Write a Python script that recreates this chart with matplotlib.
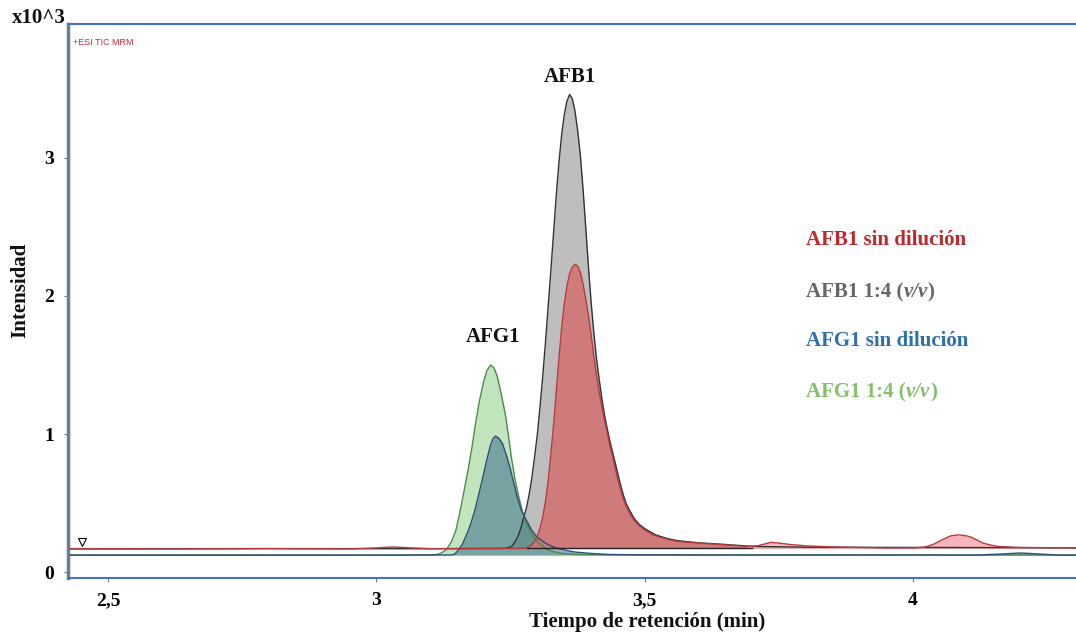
import matplotlib
matplotlib.use("Agg")
import matplotlib.pyplot as plt
import numpy as np

SERIF = ["Liberation Serif", "DejaVu Serif"]

afb1_x = [2.43, 2.60, 2.80, 2.95, 3.00, 3.03, 3.06, 3.10, 3.20, 3.26, 3.28, 3.285, 3.29, 3.295,
          3.30, 3.305, 3.31, 3.315, 3.32, 3.325, 3.33, 3.335, 3.34, 3.345, 3.35, 3.355, 3.36,
          3.365, 3.371, 3.376, 3.38, 3.385, 3.39, 3.395, 3.40, 3.405, 3.41, 3.415, 3.42, 3.425,
          3.43, 3.435, 3.44, 3.445, 3.45, 3.455, 3.46, 3.465, 3.47, 3.48, 3.49, 3.50, 3.515,
          3.53, 3.56, 3.60, 3.65, 3.69, 3.71, 3.72, 3.735, 3.75, 3.77, 3.80, 3.85, 3.90, 3.95,
          4.00, 4.02, 4.03, 4.04, 4.05, 4.06, 4.07, 4.085, 4.10, 4.11, 4.12, 4.13, 4.145, 4.16,
          4.20, 4.31]
afb1_y = [0.170, 0.168, 0.170, 0.168, 0.175, 0.182, 0.176, 0.170, 0.170, 0.171, 0.174, 0.185, 0.20, 0.225,
          0.26, 0.32, 0.40, 0.51, 0.66, 0.85, 1.06, 1.30, 1.54, 1.76, 1.94, 2.07, 2.16,
          2.21, 2.23, 2.21, 2.17, 2.09, 1.98, 1.86, 1.72, 1.57, 1.43, 1.31, 1.20, 1.10,
          1.01, 0.92, 0.84, 0.75, 0.67, 0.60, 0.53, 0.48, 0.44, 0.375, 0.335, 0.305, 0.27,
          0.25, 0.222, 0.21, 0.197, 0.186, 0.190, 0.200, 0.215, 0.210, 0.200, 0.190, 0.182, 0.178, 0.175,
          0.175, 0.180, 0.190, 0.205, 0.225, 0.245, 0.262, 0.270, 0.262, 0.250, 0.230, 0.210, 0.195, 0.185,
          0.178, 0.175]

afb1_dil_x = [2.43, 2.80, 3.10, 3.24, 3.252, 3.26, 3.265, 3.27, 3.275, 3.28, 3.285, 3.29, 3.295,
              3.30, 3.305, 3.31, 3.315, 3.32, 3.325, 3.33, 3.335, 3.34, 3.345, 3.35, 3.355, 3.36,
              3.365, 3.37, 3.375, 3.38, 3.385, 3.39, 3.395, 3.40, 3.405, 3.41, 3.415, 3.42, 3.425,
              3.43, 3.435, 3.44, 3.445, 3.45, 3.455, 3.46, 3.465, 3.47, 3.48, 3.49, 3.50, 3.52,
              3.54, 3.56, 3.60, 3.65, 3.70, 3.80, 4.31]
afb1_dil_y = [0.168, 0.170, 0.169, 0.172, 0.185, 0.23, 0.27, 0.33, 0.40, 0.47, 0.57, 0.69, 0.84,
              1.00, 1.20, 1.42, 1.66, 1.92, 2.18, 2.45, 2.72, 2.96, 3.16, 3.31, 3.41, 3.46,
              3.43, 3.34, 3.20, 3.02, 2.78, 2.50, 2.22, 1.96, 1.74, 1.55, 1.40, 1.26, 1.14,
              1.04, 0.95, 0.87, 0.79, 0.71, 0.63, 0.56, 0.50, 0.46, 0.39, 0.345, 0.315, 0.27,
              0.245, 0.228, 0.212, 0.200, 0.186, 0.180, 0.176]

afg1_x = [2.43, 2.70, 3.00, 3.14, 3.146, 3.153, 3.16, 3.168, 3.175, 3.183, 3.19, 3.198, 3.205,
          3.212, 3.217, 3.222, 3.228, 3.235, 3.242, 3.25, 3.256, 3.262, 3.27, 3.28, 3.29, 3.30,
          3.315, 3.33, 3.35, 3.37, 3.40, 3.43, 3.47, 3.60, 4.12, 4.16, 4.20, 4.24, 4.27, 4.31]
afg1_y = [0.123, 0.122, 0.123, 0.124, 0.130, 0.16, 0.20, 0.27, 0.34, 0.44, 0.55, 0.68, 0.80,
          0.91, 0.965, 0.985, 0.97, 0.93, 0.85, 0.74, 0.645, 0.55, 0.45, 0.37, 0.30, 0.25,
          0.21, 0.18, 0.16, 0.145, 0.135, 0.128, 0.125, 0.123, 0.123, 0.130, 0.138, 0.130, 0.123, 0.123]

afg1_dil_x = [2.43, 2.70, 3.00, 3.10, 3.11, 3.115, 3.12, 3.13, 3.14, 3.148, 3.155, 3.162, 3.17,
              3.178, 3.185, 3.192, 3.20, 3.206, 3.213, 3.219, 3.225, 3.232, 3.24, 3.246, 3.252,
              3.258, 3.265, 3.272, 3.28, 3.29, 3.30, 3.31, 3.32, 3.333, 3.347, 3.37, 3.40, 4.31]
afg1_dil_y = [0.123, 0.124, 0.122, 0.123, 0.126, 0.130, 0.136, 0.16, 0.22, 0.30, 0.42, 0.56, 0.72,
              0.90, 1.08, 1.24, 1.38, 1.46, 1.50, 1.48, 1.42, 1.30, 1.15, 0.99, 0.82,
              0.68, 0.55, 0.44, 0.35, 0.27, 0.22, 0.185, 0.16, 0.145, 0.135, 0.128, 0.125, 0.123]

# linea de integracion bajo AFB1
integ_x = [3.28, 3.70]
integ_y = [0.172, 0.172]

legend_labels = [("AFB1 sin dilución", None), ("AFB1 1:4 (", "v/v"),
                 ("AFG1 sin dilución", None), ("AFG1 1:4 (", "v/v")]
legend_colors = ["#c0282d", "#666666", "#2e6fae", "#84bf6a"]

fig = plt.figure(figsize=(10.76, 6.35), dpi=100)
ax = fig.add_axes([68/1076, 57/635, 1 - 68/1076, 554/635])

ax.fill_between(afb1_dil_x, afb1_dil_y, 0.17, color="#bebebe", zorder=1, lw=0)
ax.plot(afb1_dil_x, afb1_dil_y, color="#333333", lw=1.0, zorder=5)

ax.fill_between(afg1_dil_x, afg1_dil_y, 0.123, color=(0.47, 0.78, 0.43), alpha=0.45, zorder=2, lw=0)
ax.plot(afg1_dil_x, afg1_dil_y, color="#4a8a4a", lw=1.0, zorder=5)

ax.fill_between(afg1_x, afg1_y, 0.123, color=(0.24, 0.43, 0.55), alpha=0.55, zorder=3, lw=0)
ax.plot(afg1_x, afg1_y, color="#2a4f7a", lw=1.0, zorder=5)

rx = np.array(afb1_x)
ry = np.array(afb1_y)
ax.fill_between(rx, ry, 0.172, where=rx <= 3.70, color=(0.82, 0.45, 0.455), alpha=0.9,
                zorder=4, lw=0, interpolate=True)
ax.fill_between(rx, ry, 0.172, where=rx >= 3.70, color="#f5aab0", alpha=0.85,
                zorder=4, lw=0, interpolate=True)
ax.plot(afb1_x, afb1_y, color="#b83a3f", lw=1.0, zorder=6)
ax.plot(integ_x, integ_y, color="#222222", lw=1.0, zorder=6)

ax.plot([2.452], [0.215], marker="v", ms=6, mfc="white", mec="black", mew=0.8, ls="none", zorder=7)

ax.set_xlim(2.4255, 4.3035)
ax.set_ylim(-0.043, 3.97)
ax.set_xticks([2.5, 3, 3.5, 4])
ax.set_xticklabels(["2,5", "3", "3,5", "4"])
ax.set_yticks([0, 1, 2, 3])
ax.set_yticklabels(["0", "1", "2", "3"])
ax.tick_params(axis="both", direction="out", length=3, width=0.8, color="#777777",
               labelsize=14, pad=7)
for lab in ax.get_xticklabels() + ax.get_yticklabels():
    lab.set_fontfamily(SERIF)
    lab.set_fontweight("bold")

ax.spines["right"].set_visible(False)
ax.spines["top"].set_color("#4472c4")
ax.spines["top"].set_linewidth(1.5)
ax.spines["bottom"].set_color("#4472c4")
ax.spines["bottom"].set_linewidth(1.5)
ax.spines["left"].set_color("#66809a")
ax.spines["left"].set_linewidth(2.5)

ax.text(0.005, 0.975, "+ESI TIC MRM", transform=ax.transAxes, color="#c8283a",
        fontsize=6.5, family=["Liberation Sans", "DejaVu Sans"], va="top", ha="left")

ax.text(3.36, 3.587, "AFB1", ha="center", va="center", fontsize=15,
        fontweight="bold", family=SERIF, color="#111111")
ax.text(3.218, 1.70, "AFG1", ha="center", va="center", fontsize=15,
        fontweight="bold", family=SERIF, color="#111111")

legend_y = [240, 292, 341, 392]
for (txt, ital), col, py in zip(legend_labels, legend_colors, legend_y):
    t = fig.text(806/1076, 1 - py/635, txt, color=col, fontsize=15, fontweight="bold",
                 family=SERIF, ha="left", va="center")
    if ital:
        t2 = ax.annotate(ital, xy=(1, 0), xycoords=t, va="bottom", ha="left", color=col,
                         fontsize=15, fontweight="bold", fontstyle="italic", family=SERIF)
        ax.annotate(")", xy=(1, 0), xycoords=t2, va="bottom", ha="left", color=col,
                    fontsize=15, fontweight="bold", family=SERIF)

fig.text(12/1076, 1 - 18/635, "x10^3", fontsize=15, fontweight="bold", family=SERIF,
         ha="left", va="center", color="#111111")
fig.text(20/1076, 1 - 290/635, "Intensidad", fontsize=15, fontweight="bold", family=SERIF,
         rotation=90, ha="center", va="center", color="#111111")
fig.text(647/1076, 1 - 622/635, "Tiempo de retención (min)", fontsize=15, fontweight="bold",
         family=SERIF, ha="center", va="center", color="#111111")

fig.savefig("out.png", dpi=100)
